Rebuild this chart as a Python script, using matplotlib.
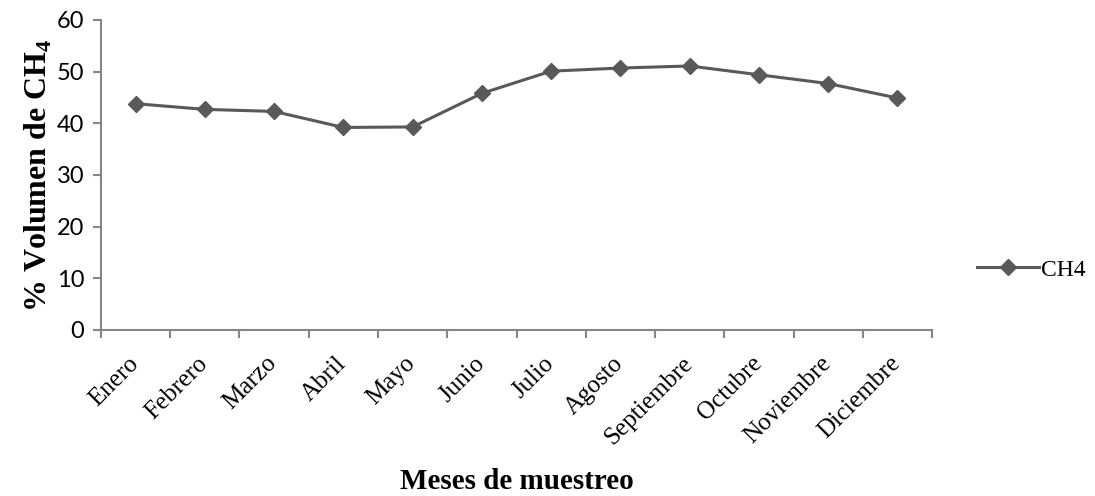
import matplotlib
matplotlib.use("Agg")
import matplotlib.pyplot as plt
import matplotlib.transforms as mtransforms
import numpy as np

meses = ['Enero', 'Febrero', 'Marzo', 'Abril', 'Mayo', 'Junio', 'Julio',
         'Agosto', 'Septiembre', 'Octubre', 'Noviembre', 'Diciembre']
ch4 = [43.8, 42.7, 42.3, 39.2, 39.3, 45.8, 50.1, 50.7, 51.1, 49.4, 47.7, 44.9]
yticks = [0, 10, 20, 30, 40, 50, 60]

AXIS_GREY = '#868686'
LINE_GREY = '#595959'

plt.rcParams['mathtext.fontset'] = 'custom'
plt.rcParams['mathtext.bf'] = 'Liberation Serif:bold'
plt.rcParams['mathtext.rm'] = 'Liberation Serif'

fig = plt.figure(figsize=(10.95, 4.96), dpi=100)
ax = fig.add_axes([0.0922, 0.3347, 0.7590, 0.6250])

x = np.arange(len(meses)) + 0.5
line, = ax.plot(x, ch4, color=LINE_GREY, lw=2.2, marker='D', ms=8,
                markerfacecolor=LINE_GREY, markeredgecolor=LINE_GREY, label='CH4')

ax.set_xlim(0, len(meses))
ax.set_ylim(0, 60)
ax.set_yticks(yticks)
ax.set_yticklabels([str(v) for v in yticks], fontfamily='Lato', fontsize=17)

# category labels sit between the boundary ticks
ax.set_xticks(x)
ax.set_xticklabels(meses, rotation=45, ha='right', rotation_mode='anchor',
                   fontfamily='Liberation Serif', fontsize=18)
ax.set_xticks(np.arange(len(meses) + 1), minor=True)
ax.tick_params(axis='x', which='major', length=0, pad=16)
ax.tick_params(axis='x', which='minor', length=6, width=1.5, color=AXIS_GREY, direction='out')
ax.tick_params(axis='y', length=6, width=1.5, color=AXIS_GREY, direction='out', pad=6)
shift = mtransforms.ScaledTranslation(-6 / 72, 0, fig.dpi_scale_trans)
for lab in ax.get_xticklabels():
    lab.set_transform(lab.get_transform() + shift)

for side in ['top', 'right']:
    ax.spines[side].set_visible(False)
for side in ['left', 'bottom']:
    ax.spines[side].set_color(AXIS_GREY)
    ax.spines[side].set_linewidth(1.5)

ax.set_ylabel('% Volumen de CH$_\\mathbf{4}$', fontfamily='Liberation Serif',
              fontweight='bold', fontsize=23, labelpad=2)
ax.set_xlabel('Meses de muestreo', fontfamily='Liberation Serif',
              fontweight='bold', fontsize=21, labelpad=14)

fig.legend(handles=[line], loc='center left', bbox_to_anchor=(0.884, 0.456),
           frameon=False, prop={'family': 'Liberation Serif', 'size': 17},
           handlelength=2.6, handletextpad=0.1, borderaxespad=0)

fig.savefig('out.png', dpi=100)
